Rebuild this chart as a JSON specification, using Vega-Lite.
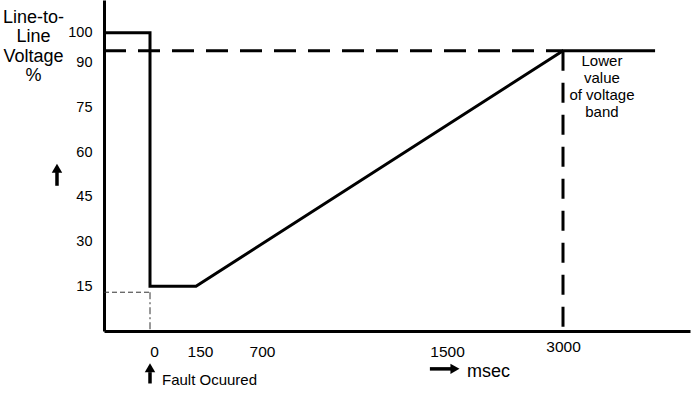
{
  "$schema": "https://vega.github.io/schema/vega-lite/v6.json",
  "width": 586,
  "height": 331,
  "autosize": "none",
  "padding": {"left": 104, "top": 0, "right": 7, "bottom": 65},
  "background": "white",
  "config": {"view": {"stroke": null}, "font": "Liberation Sans"},
  "datasets": {
    "voltage": [
      {"t": -500, "v": 100},
      {"t": 0, "v": 100},
      {"t": 0, "v": 15},
      {"t": 150, "v": 15},
      {"t": 3000, "v": 94},
      {"t": 3435, "v": 94}
    ],
    "guides": [
      {"kind": "band", "t": -500, "t2": 3000, "v": 94, "v2": 94},
      {"kind": "boundary", "t": 3000, "t2": 3000, "v": 94, "v2": 0},
      {"kind": "faultlevel", "t": -500, "t2": 0, "v": 13, "v2": 13},
      {"kind": "faulttime", "t": 0, "t2": 0, "v": 13, "v2": 0}
    ],
    "one": [{}]
  },
  "layer": [
    {
      "data": {"name": "voltage"},
      "mark": {"type": "line", "color": "black", "strokeWidth": 3, "strokeJoin": "miter"},
      "encoding": {
        "x": {
          "field": "t", "type": "quantitative",
          "scale": {"domain": [-500, 0, 150, 700, 1500, 3000, 3600], "range": [0, 46, 92, 158, 343, 459, 586], "nice": false, "zero": false},
          "axis": {
            "title": null, "values": [0, 150, 700, 1500, 3000], "format": "d", "ticks": false, "grid": false,
            "domainColor": "black", "domainWidth": 3,
            "labelFontSize": 15.5, "labelColor": "black", "labelFont": "Liberation Sans",
            "labelPadding": {"condition": {"test": "datum.value == 3000", "value": 8}, "value": 13},
            "labelOffset": {"condition": {"test": "datum.value < 200", "value": 4}, "value": 0},
            "labelOverlap": false
          }
        },
        "y": {
          "field": "v", "type": "quantitative",
          "scale": {"domain": [0, 111], "nice": false, "zero": false},
          "axis": {
            "values": [15, 30, 45, 60, 75, 90, 100], "ticks": false, "grid": false,
            "domainColor": "black", "domainWidth": 3,
            "labelFontSize": 14.5, "labelColor": "black", "labelPadding": 12, "labelFont": "Liberation Sans",
            "title": ["Line-to-", "Line", "Voltage", "%"],
            "titleAngle": 0, "titleAlign": "center", "titleBaseline": "top",
            "titleX": -71, "titleY": 8, "titleFontSize": 18, "titleFontWeight": "normal",
            "titleLineHeight": 19.5, "titleFont": "Liberation Sans", "titleColor": "black"
          }
        },
        "order": {"value": null}
      }
    },
    {
      "data": {"name": "guides"},
      "transform": [{"filter": "datum.kind == 'band'"}],
      "mark": {"type": "rule", "color": "black", "strokeWidth": 3, "strokeDash": [22, 12]},
      "encoding": {
        "x": {"field": "t", "type": "quantitative"}, "x2": {"field": "t2"},
        "y": {"field": "v", "type": "quantitative"}, "y2": {"field": "v2"}
      }
    },
    {
      "data": {"name": "guides"},
      "transform": [{"filter": "datum.kind == 'boundary'"}],
      "mark": {"type": "rule", "color": "black", "strokeWidth": 3, "strokeDash": [20, 12]},
      "encoding": {
        "x": {"field": "t", "type": "quantitative"}, "x2": {"field": "t2"},
        "y": {"field": "v", "type": "quantitative"}, "y2": {"field": "v2"}
      }
    },
    {
      "data": {"name": "guides"},
      "transform": [{"filter": "datum.kind == 'faultlevel'"}],
      "mark": {"type": "rule", "color": "#333333", "strokeWidth": 1, "strokeDash": [5, 3]},
      "encoding": {
        "x": {"field": "t", "type": "quantitative"}, "x2": {"field": "t2"},
        "y": {"field": "v", "type": "quantitative"}, "y2": {"field": "v2"}
      }
    },
    {
      "data": {"name": "guides"},
      "transform": [{"filter": "datum.kind == 'faulttime'"}],
      "mark": {"type": "rule", "color": "#333333", "strokeWidth": 1, "strokeDash": [7, 3, 2, 3]},
      "encoding": {
        "x": {"field": "t", "type": "quantitative"}, "x2": {"field": "t2"},
        "y": {"field": "v", "type": "quantitative"}, "y2": {"field": "v2"}
      }
    },
    {
      "data": {"name": "one"},
      "mark": {"type": "rule", "color": "black", "strokeWidth": 3.5},
      "encoding": {
        "x": {"datum": 0, "type": "quantitative"},
        "y": {"datum": -13.8, "type": "quantitative"}, "y2": {"datum": -17.6}
      }
    },
    {
      "data": {"name": "one"},
      "mark": {"type": "point", "shape": "triangle-up", "filled": true, "color": "black", "size": 110, "opacity": 1},
      "encoding": {
        "x": {"datum": 0, "type": "quantitative"},
        "y": {"datum": -12.3, "type": "quantitative"}
      }
    },
    {
      "data": {"name": "one"},
      "mark": {"type": "rule", "color": "black", "strokeWidth": 3.5},
      "encoding": {
        "x": {"datum": -1011, "type": "quantitative"},
        "y": {"datum": 53.3, "type": "quantitative"}, "y2": {"datum": 48.7}
      }
    },
    {
      "data": {"name": "one"},
      "mark": {"type": "point", "shape": "triangle-up", "filled": true, "color": "black", "size": 110, "opacity": 1},
      "encoding": {
        "x": {"datum": -1011, "type": "quantitative"},
        "y": {"datum": 54.6, "type": "quantitative"}
      }
    },
    {
      "data": {"name": "one"},
      "mark": {"type": "rule", "color": "black", "strokeWidth": 3.5},
      "encoding": {
        "x": {"datum": 1426, "type": "quantitative"}, "x2": {"datum": 1565},
        "y": {"datum": -12.7, "type": "quantitative"}
      }
    },
    {
      "data": {"name": "one"},
      "mark": {"type": "point", "shape": "triangle-right", "filled": true, "color": "black", "size": 110, "opacity": 1},
      "encoding": {
        "x": {"datum": 1603, "type": "quantitative"},
        "y": {"datum": -12.7, "type": "quantitative"}
      }
    },
    {
      "data": {"name": "one"},
      "mark": {"type": "text", "text": "Fault Ocuured", "align": "left", "baseline": "middle", "fontSize": 15, "dx": 12, "color": "black", "font": "Liberation Sans"},
      "encoding": {
        "x": {"datum": 0, "type": "quantitative"},
        "y": {"datum": -16.4, "type": "quantitative"}
      }
    },
    {
      "data": {"name": "one"},
      "mark": {"type": "text", "text": "msec", "align": "left", "baseline": "middle", "fontSize": 18, "color": "black", "font": "Liberation Sans"},
      "encoding": {
        "x": {"datum": 1759, "type": "quantitative"},
        "y": {"datum": -13.7, "type": "quantitative"}
      }
    },
    {
      "data": {"name": "one"},
      "mark": {"type": "text", "text": ["Lower", "value", "of voltage", "band"], "align": "center", "baseline": "top", "fontSize": 15, "lineHeight": 17, "color": "black", "font": "Liberation Sans"},
      "encoding": {
        "x": {"datum": 3184, "type": "quantitative"},
        "y": {"datum": 92.9, "type": "quantitative"}
      }
    }
  ]
}
